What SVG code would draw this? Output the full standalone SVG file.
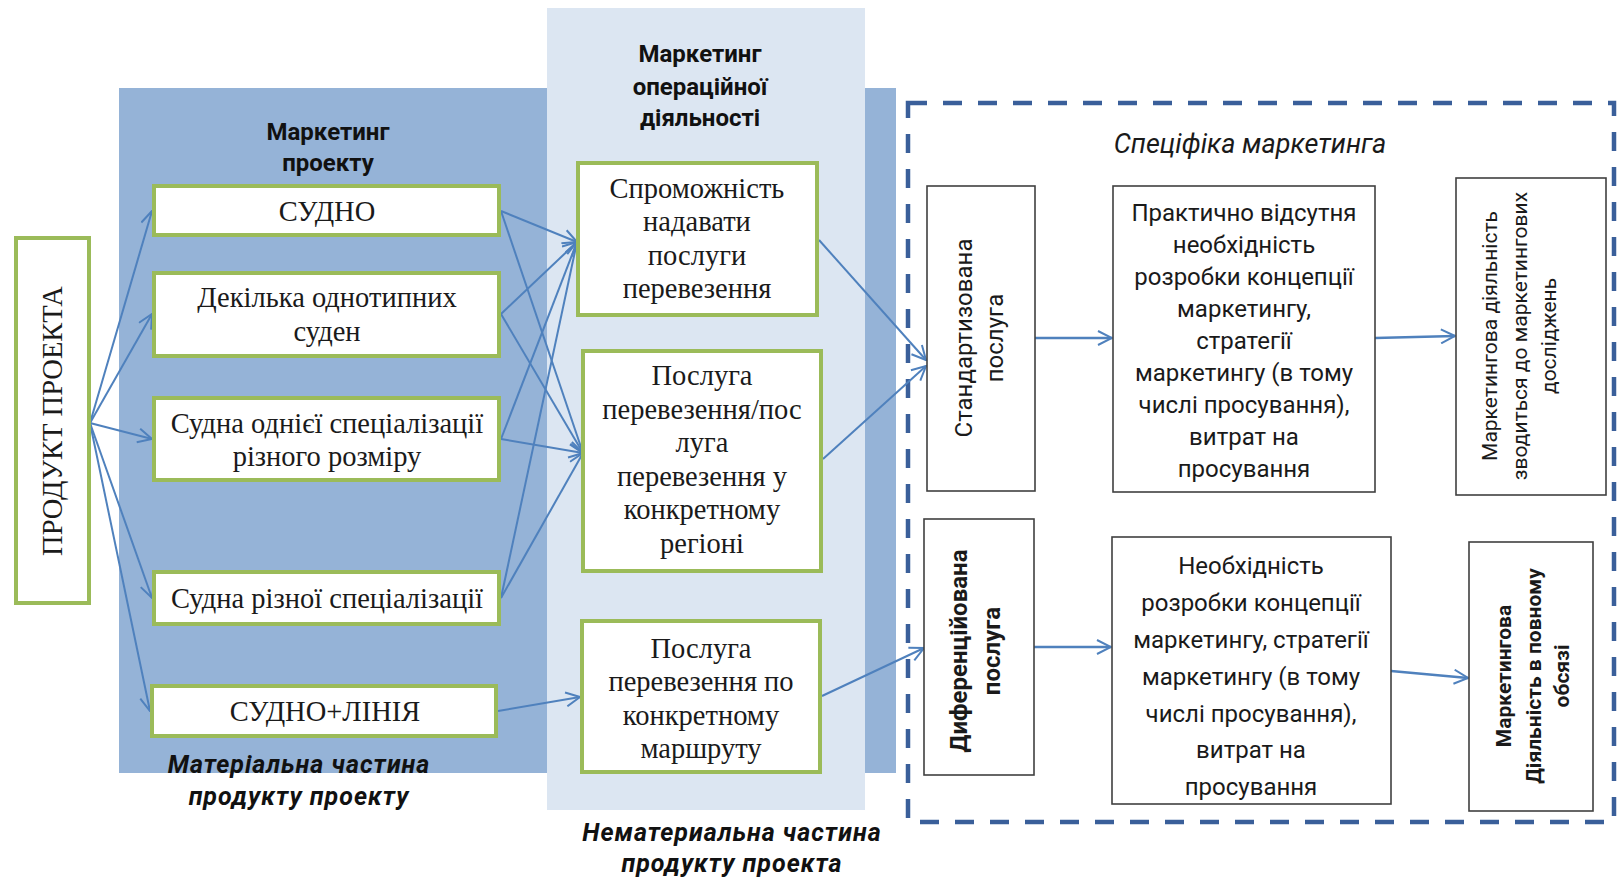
<svg xmlns="http://www.w3.org/2000/svg" width="1617" height="880" viewBox="0 0 1617 880">
<defs>
<marker id="arr" viewBox="0 0 16 16" refX="15" refY="8" markerWidth="16" markerHeight="16" markerUnits="userSpaceOnUse" orient="auto">
<path d="M1,1 L15,8 L1,15" fill="none" stroke="#4F81BD" stroke-width="2"/>
</marker>
<style>
.gbox{fill:#fff;stroke:#9BBB59;stroke-width:4}
.kbox{fill:#fff;stroke:#404040;stroke-width:1.6}
.serif{font-family:"Liberation Serif","Times New Roman",serif;font-size:28.5px;fill:#1a1a1a;text-anchor:middle}
.sans{font-family:Roboto,"Liberation Sans",sans-serif;font-size:24px;fill:#1a1a1a;text-anchor:middle}
.title{font-family:Roboto,"Liberation Sans",sans-serif;font-size:24px;font-weight:bold;fill:#111;text-anchor:middle}
.cap{font-family:Roboto,"Liberation Sans",sans-serif;font-size:25px;letter-spacing:1px;font-weight:bold;font-style:italic;fill:#111;text-anchor:middle}
.conn{fill:none;stroke:#4F81BD;stroke-width:2;marker-end:url(#arr)}
.conn2{fill:none;stroke:#4F81BD;stroke-width:2.5;marker-end:url(#arr)}
</style>
</defs>
<rect width="1617" height="880" fill="#fff"/>
<!-- panels -->
<rect id="panel-material" x="119" y="88" width="777" height="685" fill="#95B3D7"/>
<rect id="panel-nonmaterial" x="547" y="8" width="318" height="802" fill="#DCE6F2"/>
<rect id="spec-frame" x="908" y="103" width="706" height="719" fill="none" stroke="#3A5F9A" stroke-width="4.5" stroke-dasharray="19 16"/>

<text class="title" x="328" y="140">Маркетинг</text>
<text class="title" x="328" y="171">проекту</text>
<text class="title" x="700" y="62">Маркетинг</text>
<text class="title" x="700" y="95">операційної</text>
<text class="title" x="700" y="126">діяльності</text>
<text class="cap" x="299" y="773">Матеріальна частина</text>
<text class="cap" x="299" y="805">продукту проекту</text>
<text class="cap" x="732" y="841">Нематериальна частина</text>
<text class="cap" x="732" y="872">продукту проекта</text>
<text x="1250" y="153" style="font-family:Roboto,'Liberation Sans',sans-serif;font-size:27px;font-style:italic;fill:#1a1a1a;text-anchor:middle">Спеціфіка маркетинга</text>

<!-- connectors -->
<g id="connectors">
<line class="conn" x1="90" y1="423" x2="152" y2="211"/>
<line class="conn" x1="90" y1="423" x2="152" y2="314"/>
<line class="conn" x1="90" y1="423" x2="152" y2="439"/>
<line class="conn" x1="90" y1="423" x2="152" y2="598"/>
<line class="conn" x1="90" y1="423" x2="150" y2="711"/>
<line class="conn" x1="501" y1="211" x2="577" y2="242"/>
<line class="conn" x1="501" y1="211" x2="583" y2="453"/>
<line class="conn" x1="501" y1="314" x2="577" y2="242"/>
<line class="conn" x1="501" y1="314" x2="583" y2="453"/>
<line class="conn" x1="501" y1="439" x2="577" y2="242"/>
<line class="conn" x1="501" y1="439" x2="583" y2="453"/>
<line class="conn" x1="501" y1="598" x2="577" y2="242"/>
<line class="conn" x1="501" y1="598" x2="583" y2="453"/>
<line class="conn" x1="498" y1="711" x2="580" y2="697"/>
<line class="conn" x1="819" y1="240" x2="926" y2="360"/>
<line class="conn" x1="823" y1="459" x2="926" y2="366"/>
<line class="conn" x1="822" y1="696" x2="924" y2="648"/>
<line class="conn2" x1="1035" y1="338" x2="1112" y2="338"/>
<line class="conn2" x1="1375" y1="338" x2="1455" y2="336"/>
<line class="conn2" x1="1034" y1="647" x2="1111" y2="647"/>
<line class="conn2" x1="1391" y1="671" x2="1468" y2="678"/>
</g>

<g id="n-product">
<rect class="gbox" x="16" y="238" width="73" height="365"/>
<text class="serif" transform="translate(62,421) rotate(-90)">ПРОДУКТ ПРОЕКТА</text>
</g>
<g id="n-sudno">
<rect class="gbox" x="154" y="186" width="345" height="49"/>
<text class="serif" x="327" y="221">СУДНО</text>
</g>
<g id="n-dekilka">
<rect class="gbox" x="154" y="273" width="345" height="83"/>
<text class="serif" x="327" y="307">Декілька однотипних</text>
<text class="serif" x="327" y="341">суден</text>
</g>
<g id="n-odniei">
<rect class="gbox" x="154" y="398" width="345" height="82"/>
<text class="serif" x="327" y="433">Судна однієї спеціалізації</text>
<text class="serif" x="327" y="466">різного розміру</text>
</g>
<g id="n-riznoi">
<rect class="gbox" x="154" y="572" width="345" height="52"/>
<text class="serif" x="327" y="608">Судна різної спеціалізації</text>
</g>
<g id="n-liniia">
<rect class="gbox" x="152" y="686" width="344" height="50"/>
<text class="serif" x="325" y="721">СУДНО+ЛІНІЯ</text>
</g>

<g id="n-spromozhnist">
<rect class="gbox" x="578" y="163" width="239" height="152"/>
<text class="serif" x="697" y="198">Спроможність</text>
<text class="serif" x="697" y="231">надавати</text>
<text class="serif" x="697" y="265">послуги</text>
<text class="serif" x="697" y="298">перевезення</text>
</g>
<g id="n-region">
<rect class="gbox" x="583" y="351" width="238" height="220"/>
<text class="serif" x="702" y="385">Послуга</text>
<text class="serif" x="702" y="419">перевезення/пос</text>
<text class="serif" x="702" y="452">луга</text>
<text class="serif" x="702" y="486">перевезення у</text>
<text class="serif" x="702" y="519">конкретному</text>
<text class="serif" x="702" y="553">регіоні</text>
</g>
<g id="n-marshrut">
<rect class="gbox" x="582" y="621" width="238" height="151"/>
<text class="serif" x="701" y="658">Послуга</text>
<text class="serif" x="701" y="691">перевезення по</text>
<text class="serif" x="701" y="725">конкретному</text>
<text class="serif" x="701" y="758">маршруту</text>
</g>

<g id="n-standart">
<rect class="kbox" x="927" y="186" width="108" height="305"/>
<text class="sans" transform="translate(972,338) rotate(-90)">Стандартизована<tspan x="0" dy="31">послуга</tspan></text>
</g>
<g id="n-praktychno">
<rect class="kbox" x="1113" y="186" width="262" height="306"/>
<text class="sans" x="1244" y="221">Практично відсутня</text>
<text class="sans" x="1244" y="253">необхідність</text>
<text class="sans" x="1244" y="285">розробки концепції</text>
<text class="sans" x="1244" y="317">маркетингу,</text>
<text class="sans" x="1244" y="349">стратегії</text>
<text class="sans" x="1244" y="381">маркетингу (в тому</text>
<text class="sans" x="1244" y="413">числі просування),</text>
<text class="sans" x="1244" y="445">витрат на</text>
<text class="sans" x="1244" y="477">просування</text>
</g>
<g id="n-doslidzhen">
<rect class="kbox" x="1456" y="178" width="150" height="317"/>
<text class="sans" transform="translate(1497,336) rotate(-90)" style="font-size:21px">Маркетингова діяльність<tspan x="0" dy="29.5">зводиться до маркетингових</tspan><tspan x="0" dy="29.5">досліджень</tspan></text>
</g>
<g id="n-dyferents">
<rect class="kbox" x="924" y="519" width="110" height="256"/>
<text class="sans" transform="translate(967,651) rotate(-90)" style="font-weight:bold">Диференційована<tspan x="0" dy="33">послуга</tspan></text>
</g>
<g id="n-neobkhidnist">
<rect class="kbox" x="1112" y="537" width="279" height="267"/>
<text class="sans" x="1251" y="574">Необхідність</text>
<text class="sans" x="1251" y="611">розробки концепції</text>
<text class="sans" x="1251" y="648">маркетингу, стратегії</text>
<text class="sans" x="1251" y="685">маркетингу (в тому</text>
<text class="sans" x="1251" y="722">числі просування),</text>
<text class="sans" x="1251" y="758">витрат на</text>
<text class="sans" x="1251" y="795">просування</text>
</g>
<g id="n-povnomu">
<rect class="kbox" x="1469" y="542" width="124" height="269"/>
<text class="sans" transform="translate(1511,676) rotate(-90)" style="font-size:21px;font-weight:bold">Маркетингова<tspan x="0" dy="29.5">Діяльність в повному</tspan><tspan x="0" dy="28">обсязі</tspan></text>
</g>
</svg>
